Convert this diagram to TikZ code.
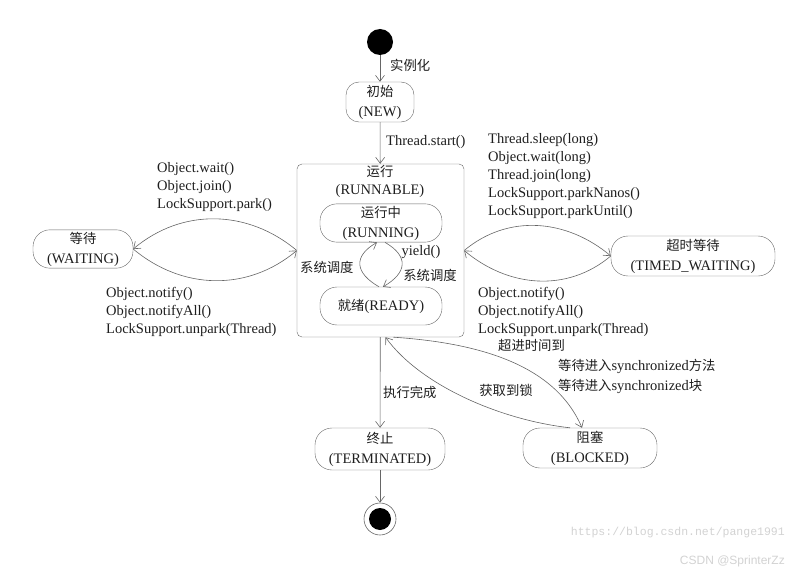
\documentclass[tikz,border=0pt]{standalone}
\usepackage{fontspec}
\setmainfont{Liberation Serif}
\setmonofont{Liberation Mono}
\setsansfont{Liberation Sans}
\newfontfamily\cjk[Scale=0.92]{Noto Sans CJK SC}
\usetikzlibrary{arrows.meta}

\definecolor{linegray}{HTML}{666666}
\definecolor{textgray}{HTML}{1E1E1E}

\tikzset{
  state/.style  = {draw=linegray, rounded corners=17pt, align=center, inner sep=2pt,
                   font=\fontsize{14.5}{20}\selectfont, text=textgray},
  trans/.style  = {draw=linegray, line width=0.6pt, -{Straight Barb[length=6pt,width=9pt]}},
  lbl/.style    = {inner sep=0pt, align=left, font=\fontsize{14.5}{18}\selectfont, text=textgray},
  wmark/.style  = {inner sep=0pt, text=gray!35},
}

\begin{document}
\begin{tikzpicture}[x=1pt, y=-1pt]
        \useasboundingbox (0,0) rectangle (790,575);
        % states
        \node[circle, fill=black, minimum size=26pt, inner sep=0pt] (start) at (380,42) {};
        \node[state, rounded corners=13pt, minimum width=68pt, minimum height=40pt] (new) at (380,102) {{\cjk 初始}\\(NEW)};
        \node[draw=linegray, rounded corners=5pt, minimum width=167pt, minimum height=173pt] (runnable) at (380.5,250.5) {};
        \node[lbl, align=center] (runtitle) at (380,181) {{\cjk 运行}\\(RUNNABLE)};
        \node[state, minimum width=122pt, minimum height=36pt] (running) at (381,223) {{\cjk 运行中}\\(RUNNING)};
        \node[state, minimum width=122pt, minimum height=38pt] (ready)   at (381,306) {{\cjk 就绪}(READY)};
        \node[state, minimum width=100pt, minimum height=38pt] (waiting) at (83,249) {{\cjk 等待}\\(WAITING)};
        \node[state, minimum width=164pt, minimum height=40pt] (timed)   at (693,256) {{\cjk 超时等待}\\(TIMED\_WAITING)};
        \node[state, minimum width=130pt, minimum height=42pt] (term)    at (380,449) {{\cjk 终止}\\(TERMINATED)};
        \node[state, minimum width=134pt, minimum height=40pt] (blocked) at (590,448) {{\cjk 阻塞}\\(BLOCKED)};
        \node[circle, draw=linegray, line width=0.6pt, minimum size=32pt, inner sep=0pt] (finish) at (380,519) {};
        \fill (finish.center) circle (11pt);

        % transitions
        \draw[trans] (start) -- (new);
        \draw[trans] (new) -- (runnable);
        \draw[trans] (runnable.west) to[out=140, in=40] (waiting.east);
        \draw[trans] (waiting.east) to[out=-40, in=-140] (runnable.west);
        \draw[trans] (runnable.east) to[out=40, in=140] (timed.west);
        \draw[trans] (timed.west) to[out=-140, in=-40] (runnable.east);
        \draw[trans] ([xshift=-2pt]ready.north) to[out=150, in=-150, looseness=1.6] ([xshift=-4pt]running.south);
        \draw[trans] ([xshift=4pt]running.south) to[out=-30, in=30, looseness=1.6] ([xshift=2pt]ready.north);
        \draw[trans] (runnable) -- (term);
        \draw[trans] (term) -- (finish);
        \draw[trans] ([xshift=-20pt]blocked.north) .. controls (500,420) and (420,385) .. ([xshift=5pt]runnable.south);
        \draw[trans] ([xshift=13pt]runnable.south) .. controls (480,343) and (555,365) .. ([xshift=-8pt]blocked.north);

        % labels
        \node[lbl, anchor=west] (l-inst)  at (390,65)  {{\cjk 实例化}};
        \node[lbl, anchor=west] (l-start) at (386,142) {Thread.start()};
        \node[lbl, anchor=west] (l-wait)  at (157,187) {Object.wait()\\Object.join()\\LockSupport.park()};
        \node[lbl, anchor=west] (l-notw)  at (106,312) {Object.notify()\\Object.notifyAll()\\LockSupport.unpark(Thread)};
        \node[lbl, anchor=west] (l-sleep) at (488,176) {Thread.sleep(long)\\Object.wait(long)\\Thread.join(long)\\LockSupport.parkNanos()\\LockSupport.parkUntil()};
        \node[lbl, anchor=west] (l-nott)  at (478,312) {Object.notify()\\Object.notifyAll()\\LockSupport.unpark(Thread)};
        \node[lbl, anchor=west] (l-tout)  at (498,345) {{\cjk 超进时间到}};
        \node[lbl, anchor=west] (l-sch1)  at (300,267) {{\cjk 系统调度}};
        \node[lbl] (l-yield) at (421,252) {yield()};
        \node[lbl] (l-sch2)  at (430,275) {{\cjk 系统调度}};
        \node[lbl, anchor=west] (l-done)  at (383,392) {{\cjk 执行完成}};
        \node[lbl] (l-lock)  at (506,390) {{\cjk 获取到锁}};
        \node[lbl, anchor=west, font=\fontsize{14.5}{20}\selectfont] (l-sync) at (558,376)
             {{\cjk 等待进入}synchronized{\cjk 方法}\\{\cjk 等待进入}synchronized{\cjk 块}};

        % watermarks
        \node[wmark, anchor=east, font=\ttfamily\fontsize{11.5}{12}\selectfont] (wm-url)  at (785,533) {https://blog.csdn.net/pange1991};
        \node[wmark, anchor=east, font=\sffamily\fontsize{12}{12}\selectfont]   (wm-name) at (785,561) {CSDN @SprinterZz};
\end{tikzpicture}
\end{document}
